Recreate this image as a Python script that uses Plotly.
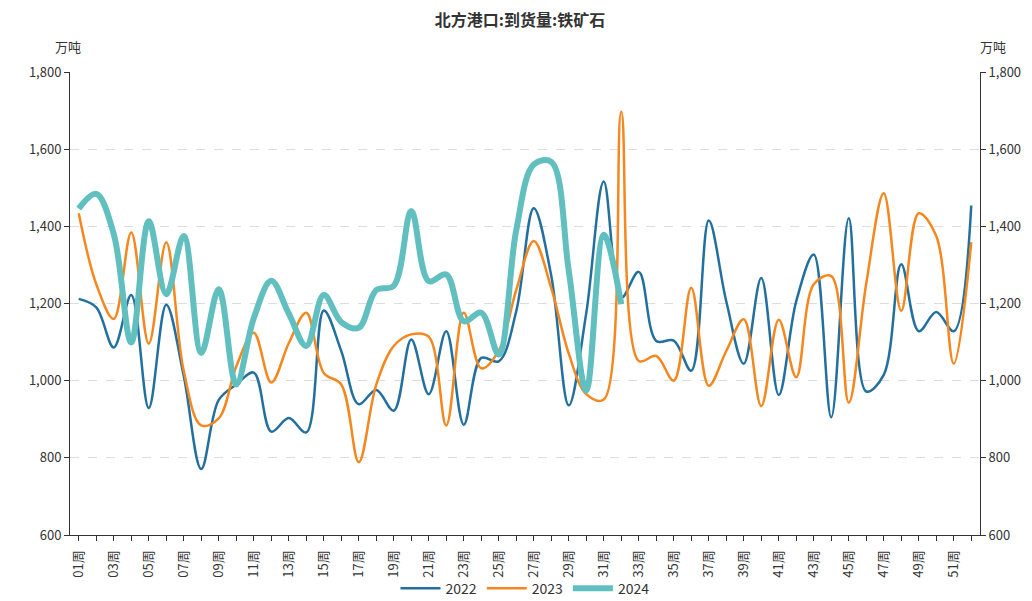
import plotly.graph_objects as go

weeks = [f"{i:02d}周" for i in range(1, 53)]

v2022 = [1212, 1190, 1086, 1222, 929, 1197, 1012, 771, 950, 990,
         1021, 868, 903, 866, 1182, 1077, 939, 976, 922, 1107,
         965, 1128, 886, 1059, 1050, 1180, 1447, 1272, 936, 1175,
         1516, 1215, 1282, 1103, 1104, 1026, 1415, 1206, 1044, 1266,
         963, 1206, 1327, 905, 1421, 972, 1015, 1302, 1128, 1178,
         1128, 1454]

v2023 = [1434, 1250, 1160, 1384, 1096, 1359, 1025, 884, 902, 1037,
         1124, 995, 1097, 1176, 1020, 990, 789, 990, 1090, 1120,
         1114, 884, 1176, 1032, 1078, 1235, 1362, 1240, 1070, 965,
         951, 1697, 1051, 1064, 1000, 1241, 987, 1077, 1159, 934,
         1158, 1009, 1250, 1271, 943, 1252, 1486, 1181, 1434, 1375,
         1044, 1359]

v2024 = [1446, 1484, 1380, 1099, 1413, 1224, 1375, 1072, 1237, 990,
         1162, 1259, 1174, 1090, 1222, 1152, 1137, 1235, 1246, 1440,
         1258, 1275, 1154, 1176, 1068, 1390, 1560, 1567, 1285, 974,
         1378, 1198]

series_names = ["2022", "2023", "2024"]
series_colors = ["#23709f", "#f5871f", "#62bfc0"]
series_widths = [2.5, 2.5, 6]

title_text = "北方港口:到货量:铁矿石"
unit_text = "万吨"
font_family = "Noto Sans CJK SC"

fig = go.Figure()
for name, vals, color, w in zip(series_names, [v2022, v2023, v2024], series_colors, series_widths):
    fig.add_trace(go.Scatter(
        x=weeks[:len(vals)], y=vals, name=name, mode="lines",
        line=dict(color=color, width=w, shape="spline", smoothing=1.0),
        hoverinfo="x+y+name",
    ))

# invisible trace for the right axis
fig.add_trace(go.Scatter(x=[weeks[0]], y=[v2022[0]], yaxis="y2", mode="lines",
                         line=dict(width=0), showlegend=False, hoverinfo="skip"))

ticktext = [w if i % 2 == 0 else "" for i, w in enumerate(weeks)]

fig.update_layout(
    width=1024, height=593,
    margin=dict(l=62, r=52, t=64, b=66),
    paper_bgcolor="white", plot_bgcolor="white",
    font=dict(family=font_family, size=13, color="#333"),
    title=dict(text=f"<b>{title_text}</b>", x=0.5, xanchor="center", y=0.979, yanchor="middle",
               font=dict(size=16, color="#333", family=font_family)),
    showlegend=True,
    legend=dict(orientation="h", x=0.5, xanchor="center", yref="container", y=0.021, yanchor="middle",
                bgcolor="rgba(0,0,0,0)",
                font=dict(size=14, color="#333"), itemwidth=40, tracegroupgap=0),
    xaxis=dict(
        type="category", categoryorder="array", categoryarray=weeks,
        range=[-0.5, 51.5], automargin=False,
        tickmode="array", tickvals=weeks, ticktext=ticktext,
        tickangle=-90, ticks="outside", ticklen=5, tickcolor="#333",
        ticklabelstandoff=4,
        showline=True, linecolor="#333", linewidth=1,
        showgrid=False, tickfont=dict(size=13, color="#333"),
    ),
    yaxis=dict(
        range=[600, 1800], dtick=200, tickformat=",d", automargin=False,
        showline=True, linecolor="#333", linewidth=1,
        ticks="outside", ticklen=5, tickcolor="#333",
        showgrid=True, gridcolor="#dddddd", griddash="dash", gridwidth=1,
        zeroline=False, tickfont=dict(size=13, color="#333"),
    ),
    yaxis2=dict(
        range=[600, 1800], dtick=200, tickformat=",d", automargin=False,
        overlaying="y", side="right",
        showline=True, linecolor="#333", linewidth=1,
        ticks="outside", ticklen=5, tickcolor="#333",
        showgrid=False, zeroline=False, tickfont=dict(size=13, color="#333"),
    ),
    annotations=[
        dict(text=unit_text, xref="paper", yref="paper", x=0, y=1, xshift=-2, yshift=14,
             xanchor="center", yanchor="bottom", showarrow=False, font=dict(size=13, color="#333")),
        dict(text=unit_text, xref="paper", yref="paper", x=1, y=1, xshift=13, yshift=14,
             xanchor="center", yanchor="bottom", showarrow=False, font=dict(size=13, color="#333")),
    ],
)

fig.write_html("out.html")
